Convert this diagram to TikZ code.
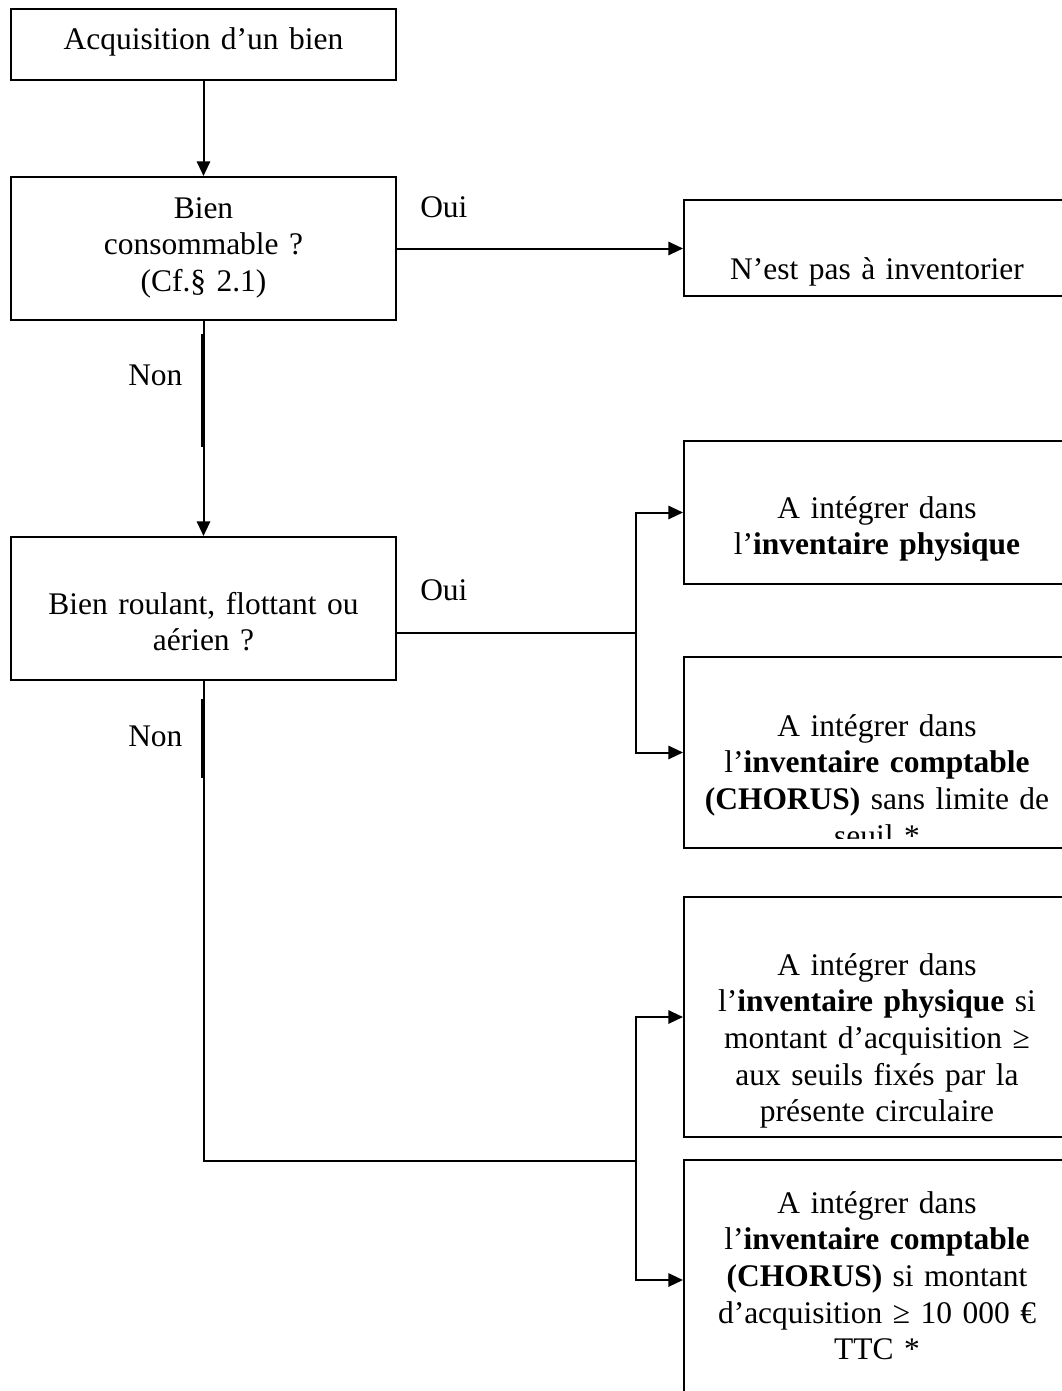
\documentclass[tikz,border=0pt]{standalone}
\usepackage{fontspec}
\setmainfont{Liberation Serif}
\usepackage{tikz}
\usetikzlibrary{arrows.meta,positioning}

\begin{document}
\begin{tikzpicture}[x=0.75pt, y=-0.75pt,
    font=\fontsize{23.6pt}{27.5pt}\selectfont,
    box/.style={draw, line width=1.5pt, minimum width=288.75pt, inner sep=0pt},
    rbox/.style={box, minimum width=289.5pt},
    txt/.style={text width=290pt, align=center, inner sep=0pt, anchor=base},
    lbl/.style={anchor=base west, inner sep=0pt},
    ln/.style={line width=1.5pt},
    ar/.style={-{Triangle[length=11pt,width=10pt]}, line width=1.5pt}]
    \useasboundingbox (0,0) rectangle (1062,1391);
    \clip (0,0) rectangle (1062,1391);
    % left column
    \node[box, minimum height=53.25pt]  (b1) at (203.5,44.5)  {};
    \node[box, minimum height=107.25pt] (b2) at (203.5,248.5) {};
    \node[box, minimum height=107.25pt] (b4) at (203.5,608.5) {};
    \node[txt] (t1) at (203.5,50)  {Acquisition d’un bien};
    \node[txt] (t2) at (203.5,218) {Bien\\consommable ?\\(Cf.§ 2.1)};
    \node[txt] (t4) at (203.5,614) {Bien roulant, flottant ou\\aérien ?};
    % right column
    \node[rbox, minimum height=72pt]     (b3) at (877,248)    {};
    \node[rbox, minimum height=107.25pt] (b5) at (877,512.5)  {};
    \node[rbox, minimum height=143.25pt] (b6) at (877,752.5)  {};
    \node[rbox, minimum height=180pt]    (b7) at (877,1017)   {};
    \node[rbox, minimum height=180pt]    (b8) at (877,1280)   {};
    \node[txt] (t3) at (877,279) {N’est pas à inventorier};
    \node[txt] (t5) at (877,518) {A intégrer dans\\l’\textbf{inventaire physique}};
    \begin{scope}
      \clip (b6.north west) rectangle ([yshift=8.25pt]b6.south east);
      \node[txt] (t6) at (877,736) {A intégrer dans\\l’\textbf{inventaire comptable}\\\textbf{(CHORUS)} sans limite de\\seuil *};
    \end{scope}
    \node[txt] (t7) at (877,975) {A intégrer dans\\l’\textbf{inventaire physique} si\\montant d’acquisition ≥\\aux seuils fixés par la\\présente circulaire};
    \node[txt] (t8) at (877,1213) {A intégrer dans\\l’\textbf{inventaire comptable}\\\textbf{(CHORUS)} si montant\\d’acquisition ≥ 10 000 €\\TTC *};
    % labels
    \node[lbl] (oui1) at (420,217) {Oui};
    \node[lbl] (oui2) at (420,600) {Oui};
    \node[lbl] (non1) at (128,385) {Non};
    \node[lbl] (non2) at (128,746) {Non};
    % connectors
    \coordinate (j1) at (636,633);
    \coordinate (j2) at (636,1161);
    \draw[ar] (b1) -- (b2);
    \draw[ar] (b2.east) -- (b2.east -| b3.west);
    \draw[ar] (b2) -- (b4);
    \draw[line width=2.2pt] ([xshift=-0.75pt]b2.south) ++(0,13) -- ++(0,113);
    \draw[ln] (b4.east |- j1) -- (j1);
    \draw[ar] (j1) |- (b5.west);
    \draw[ar] (j1) |- (b6.west);
    \draw[ln] (b4.south) |- (j2);
    \draw[line width=2.2pt] ([xshift=-0.75pt]b4.south) ++(0,18) -- ++(0,79);
    \draw[ar] (j2) |- (b7.west);
    \draw[ar] (j2) |- (b8.west);
\end{tikzpicture}
\end{document}
